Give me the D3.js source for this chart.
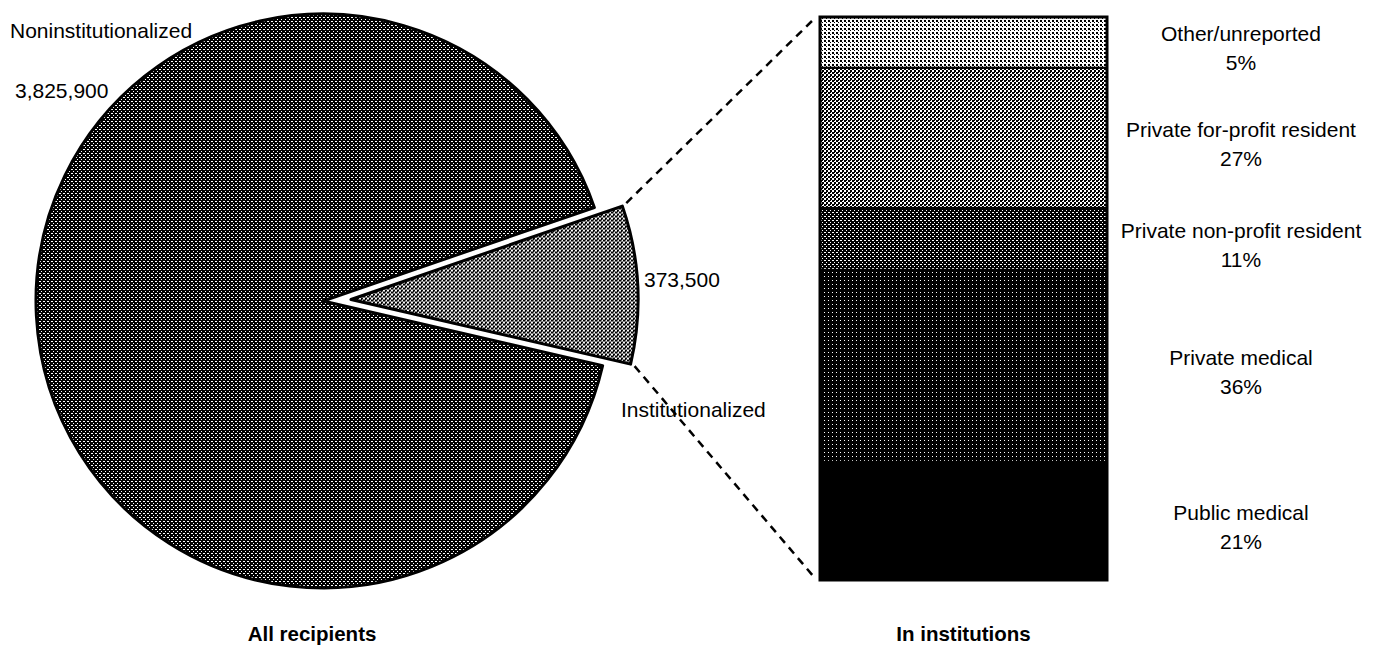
<!DOCTYPE html>
<meta charset="utf-8">
<style>
  body {
    margin: 0;
    background: #fff;
    font-family: 'Liberation Sans', Arial, sans-serif;
  }

  .lbl {
    font-size: 21px;
    fill: #000;
  }

  .title {
    font-size: 20.5px;
    font-weight: bold;
  }

  pattern rect {
    shape-rendering: crispEdges;
  }
</style>

<body>
  <div id="chart"></div>
  <script src="https://d3js.org/d3.v7.min.js"></script>

  <script>
    // pie data (all recipients)
    var pieNames = ["Institutionalized", "Noninstitutionalized"];
    var pieValues = [373500, 3825900];
    var pieLabels = ["373,500", "3,825,900"];

    // stacked bar (in institutions), bottom to top, share of bar height as drawn
    var barNames = ["Public medical", "Private medical", "Private non-profit resident",
      "Private for-profit resident", "Other/unreported"];
    var barShare = [21.0, 34.1, 11.0, 24.9, 9.0];
    var barPct = ["21%", "36%", "11%", "27%", "5%"];

    var width = 1378,
      height = 647;

    var svg = d3.select("#chart")
      .append("svg")
      .attr("width", width)
      .attr("height", height);

    // halftone-ish patterns
    var defs = svg.append("defs");

    function pattern(id, bg, fg, dots) {
      var p = defs.append("pattern")
        .attr("id", id)
        .attr("patternUnits", "userSpaceOnUse")
        .attr("width", 4)
        .attr("height", 4);
      p.append("rect").attr("width", 4).attr("height", 4).attr("fill", bg);
      dots.forEach(function(d) {
        p.append("rect")
          .attr("x", d[0]).attr("y", d[1])
          .attr("width", d[2]).attr("height", d[3])
          .attr("fill", fg);
      });
    }
    pattern("darkDots", "#000", "#fff", [[0, 0, 1, 1], [2, 2, 1, 1], [1, 0, 1, 1]]);
    pattern("check", "#fff", "#000", [[0, 0, 2, 2], [2, 2, 2, 2], [2, 0, 1, 1]]);
    pattern("lightDots", "#fff", "#000", [[0, 0, 2, 2], [2, 2, 1, 1]]);
    pattern("darker", "#000", "#fff", [[0, 0, 1, 1]]);

    var pieFill = ["url(#check)", "url(#darkDots)"];
    var barFill = ["#000", "url(#darker)", "url(#darkDots)", "url(#check)", "url(#lightDots)"];

    // ---- pie ----
    var cx = 323,
      cy = 301,
      r = 287,
      explode = 28;

    var sliceAngle = 2 * Math.PI * pieValues[0] / d3.sum(pieValues);
    var midAngle = 87 * Math.PI / 180;
    var start = midAngle - sliceAngle / 2;

    var pie = d3.pie()
      .sort(null)
      .startAngle(start)
      .endAngle(start + 2 * Math.PI);
    var arcs = pie(pieValues);

    var arc = d3.arc().innerRadius(0).outerRadius(r);

    var pieG = svg.append("g")
      .attr("transform", "translate(" + cx + "," + cy + ")");

    pieG.selectAll("path")
      .data(arcs)
      .enter()
      .append("path")
      .attr("transform", function(d, i) {
        if (i !== 0) return null;
        var a = (d.startAngle + d.endAngle) / 2;
        return "translate(" + (explode * Math.sin(a)) + "," + (-explode * Math.cos(a)) + ")";
      })
      .attr("d", arc)
      .attr("fill", function(d, i) {
        return pieFill[i];
      })
      .attr("stroke", "#000")
      .attr("stroke-width", 3)
      .attr("stroke-linejoin", "round");

    // slice corner points (page coords)
    var sl = arcs[0];
    var sm = (sl.startAngle + sl.endAngle) / 2;
    var ox = cx + explode * Math.sin(sm),
      oy = cy - explode * Math.cos(sm);
    var cTop = [ox + r * Math.sin(sl.startAngle), oy - r * Math.cos(sl.startAngle)];
    var cBot = [ox + r * Math.sin(sl.endAngle), oy - r * Math.cos(sl.endAngle)];

    // ---- stacked bar ----
    var x = d3.scaleLinear().domain([0, 1]).range([820, 1107]);
    var y = d3.scaleLinear().domain([0, 100]).range([580, 17]);

    var stack = [];
    var acc = 0;
    barShare.forEach(function(v, i) {
      stack.push({
        name: barNames[i],
        pct: barPct[i],
        y0: acc,
        y1: acc + v
      });
      acc += v;
    });

    svg.selectAll("rect.seg")
      .data(stack)
      .enter()
      .append("rect")
      .attr("class", "seg")
      .attr("x", x(0))
      .attr("width", x(1) - x(0))
      .attr("y", function(d) {
        return y(d.y1);
      })
      .attr("height", function(d) {
        return y(d.y0) - y(d.y1);
      })
      .attr("fill", function(d, i) {
        return barFill[i];
      })
      .attr("stroke", "#000")
      .attr("stroke-width", 2);

    // outer frame
    svg.append("rect")
      .attr("x", x(0))
      .attr("y", y(100))
      .attr("width", x(1) - x(0))
      .attr("height", y(0) - y(100))
      .attr("fill", "none")
      .attr("stroke", "#000")
      .attr("stroke-width", 3);

    // dashed connectors
    var links = [[cTop, [x(0) - 6, y(100) + 2]], [cBot, [x(0) - 6, y(0) - 3]]];
    svg.selectAll("line.link")
      .data(links)
      .enter()
      .append("line")
      .attr("class", "link")
      .attr("x1", function(d) { return d[0][0] + 4; })
      .attr("y1", function(d, i) { return d[0][1] + (i ? 2 : -3); })
      .attr("x2", function(d) { return d[1][0]; })
      .attr("y2", function(d) { return d[1][1]; })
      .attr("stroke", "#000")
      .attr("stroke-width", 2.5)
      .attr("stroke-dasharray", "8,6");

    // bar labels
    var lblX = 1241;
    var labs = svg.selectAll("g.barlab")
      .data(stack)
      .enter()
      .append("g")
      .attr("class", "barlab");
    labs.append("text")
      .attr("class", "lbl")
      .attr("x", lblX)
      .attr("y", function(d) {
        return (y(d.y0) + y(d.y1)) / 2 - 1;
      })
      .attr("text-anchor", "middle")
      .text(function(d) {
        return d.name;
      });
    labs.append("text")
      .attr("class", "lbl")
      .attr("x", lblX)
      .attr("y", function(d) {
        return (y(d.y0) + y(d.y1)) / 2 + 28;
      })
      .attr("text-anchor", "middle")
      .text(function(d) {
        return d.pct;
      });

    // pie labels
    svg.append("text").attr("class", "lbl").attr("x", 10).attr("y", 38).text(pieNames[1]);
    svg.append("text").attr("class", "lbl").attr("x", 15).attr("y", 98).text(pieLabels[1]);
    svg.append("text").attr("class", "lbl").attr("x", 644).attr("y", 287).text(pieLabels[0]);
    svg.append("text").attr("class", "lbl").attr("x", 621).attr("y", 417).text(pieNames[0]);

    // titles
    svg.append("text")
      .attr("class", "title")
      .attr("x", 312)
      .attr("y", 641)
      .attr("text-anchor", "middle")
      .text("All recipients");

    svg.append("text")
      .attr("class", "title")
      .attr("x", (x(0) + x(1)) / 2)
      .attr("y", 641)
      .attr("text-anchor", "middle")
      .text("In institutions");
  </script>
</body>
